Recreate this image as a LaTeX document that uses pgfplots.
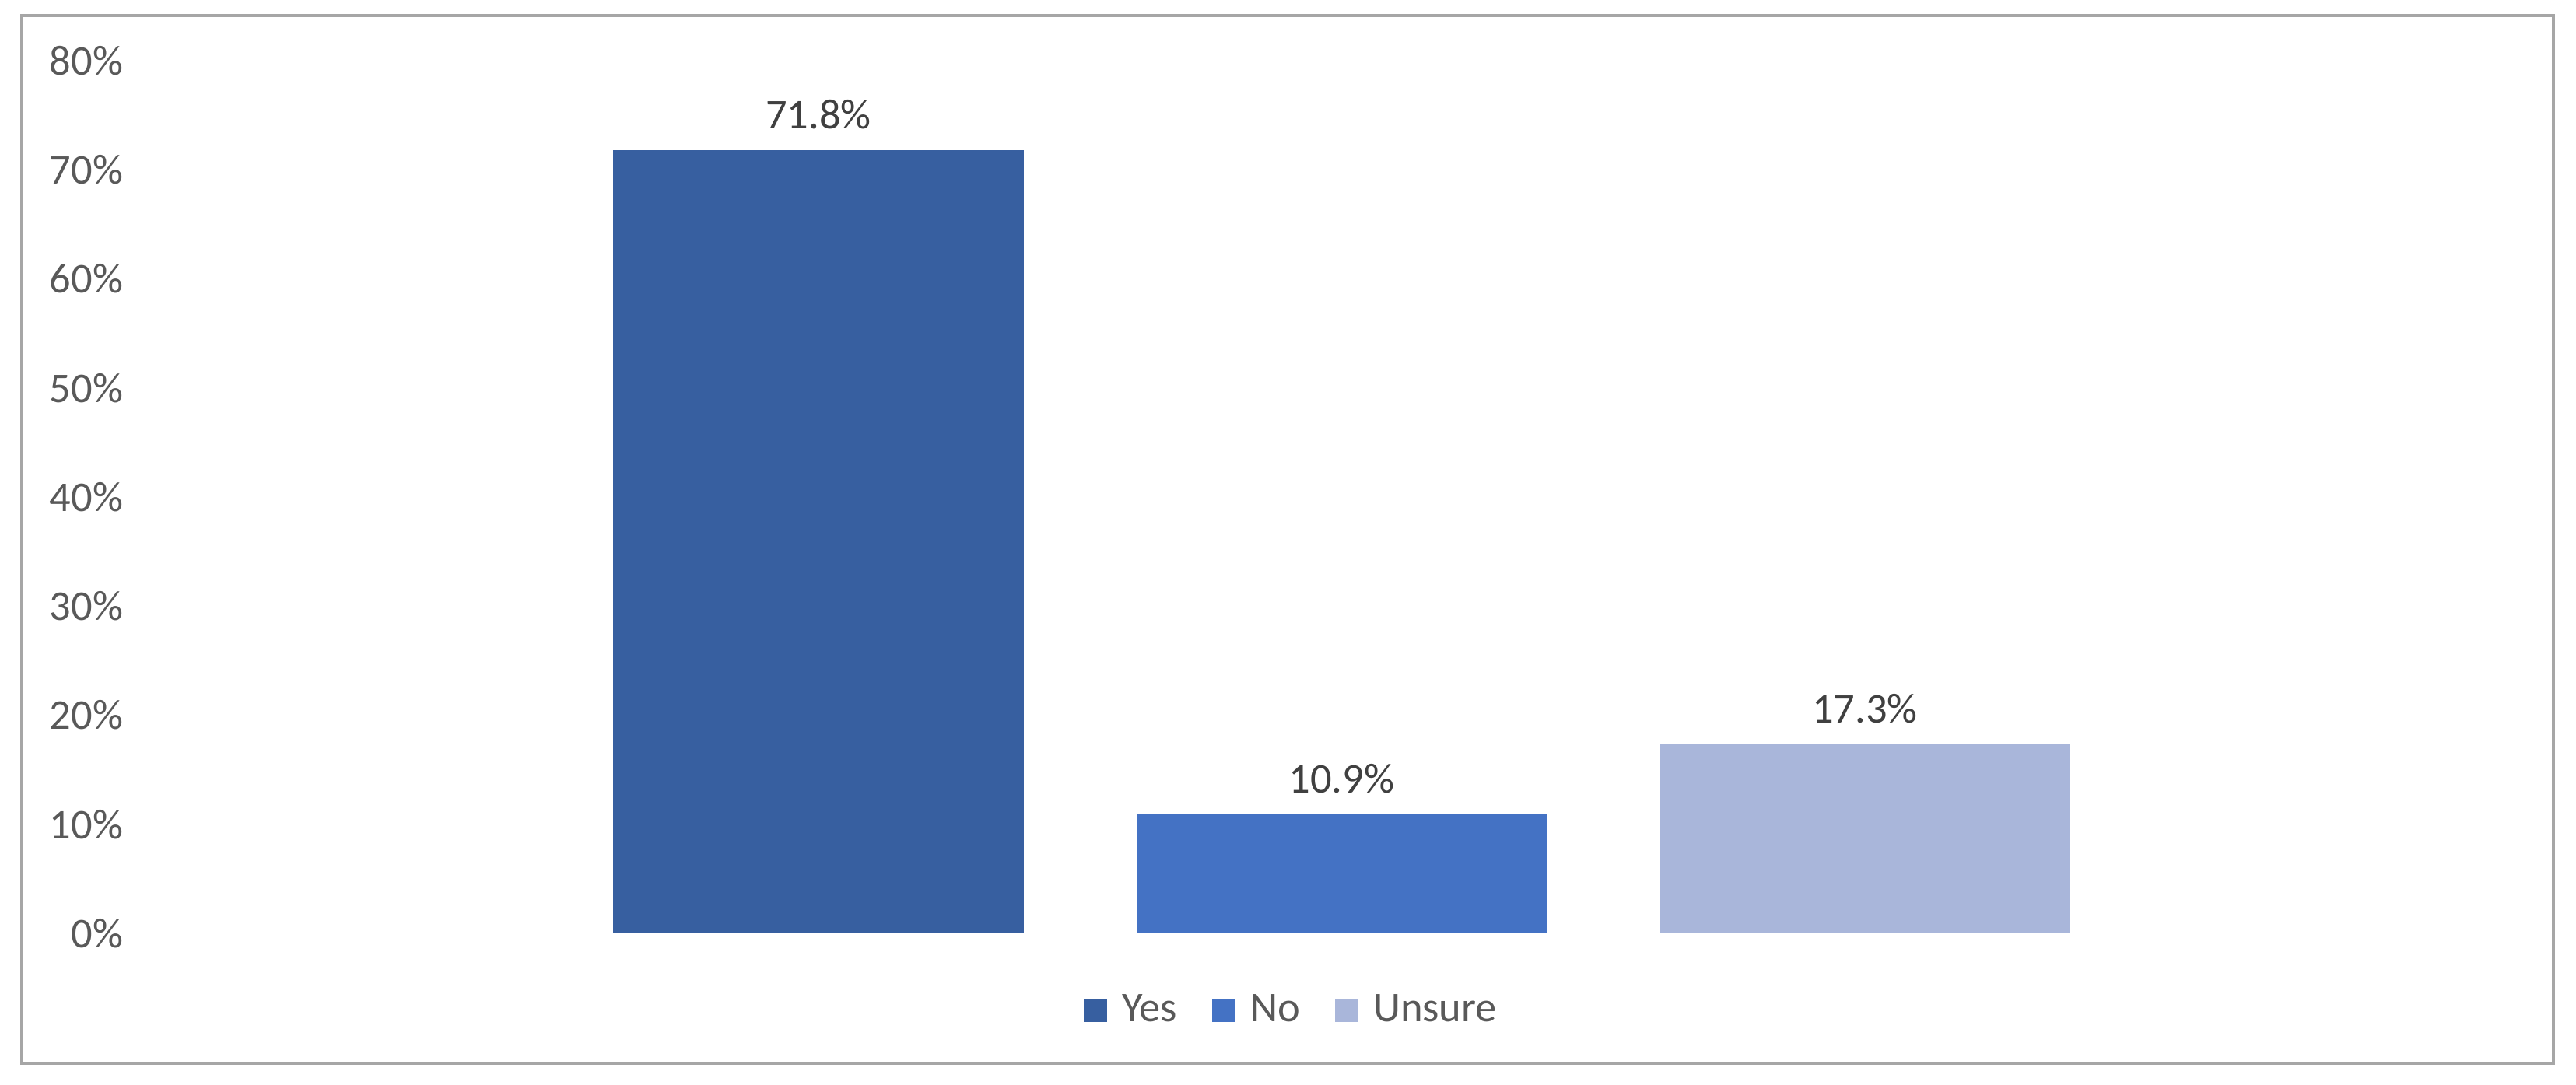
\documentclass[border=0pt]{standalone}
\usepackage{fontspec}
\setmainfont{Carlito}
\usepackage{pgfplots}
\pgfplotsset{compat=1.18}

\definecolor{yescol}{HTML}{375FA0}
\definecolor{nocol}{HTML}{4472C4}
\definecolor{unsurecol}{HTML}{A9B6DA}
\definecolor{txt}{HTML}{595959}
\definecolor{framecol}{HTML}{A6A6A6}

\begin{document}
\begin{tikzpicture}[font=\fontsize{15.5}{18}\selectfont]
  % page size and chart frame
  \useasboundingbox (0,0) rectangle (33.11,13.95);
  \draw[framecol, line width=0.9pt] (0.28,0.28) rectangle (32.82,13.75);

  \begin{axis}[
      at={(1.845cm,1.95cm)}, anchor=south west,
      scale only axis,
      width=30.8cm, height=11.22cm,
      xmin=-1, xmax=1,
      ymin=0, ymax=80,
      ytick={0,10,...,80},
      xtick=\empty,
      yticklabel={\pgfmathprintnumber{\tick}\%},
      /pgf/number format/assume math mode=true,
      yticklabel style={text=txt, xshift=-0.14cm},
      major tick length=0pt,
      axis line style={draw=none},
      ybar=1.445cm,
      bar width=5.28cm,
      nodes near coords={\pgfmathprintnumber[fixed,precision=1,fixed zerofill]{\pgfplotspointmeta}\%},
      nodes near coords style={text=black!75, yshift=0.15cm, /pgf/number format/assume math mode=true},
      legend columns=3,
      legend style={draw=none, fill=none, at={(0.4797,-0.0882)}, anchor=center,
        text=txt,
        /tikz/every even column/.append style={column sep=0.38cm}},
      legend image code/.code={\fill[#1] (0cm,-0.15cm) rectangle (0.3cm,0.15cm);
        \path (0.42cm,0cm);},
    ]
    \addplot[fill=yescol, draw=none] coordinates {(0,71.8)};
    \addlegendentry{Yes}
    \addplot[fill=nocol, draw=none] coordinates {(0,10.9)};
    \addlegendentry{No}
    \addplot[fill=unsurecol, draw=none] coordinates {(0,17.3)};
    \addlegendentry{Unsure}
  \end{axis}
\end{tikzpicture}
\end{document}
